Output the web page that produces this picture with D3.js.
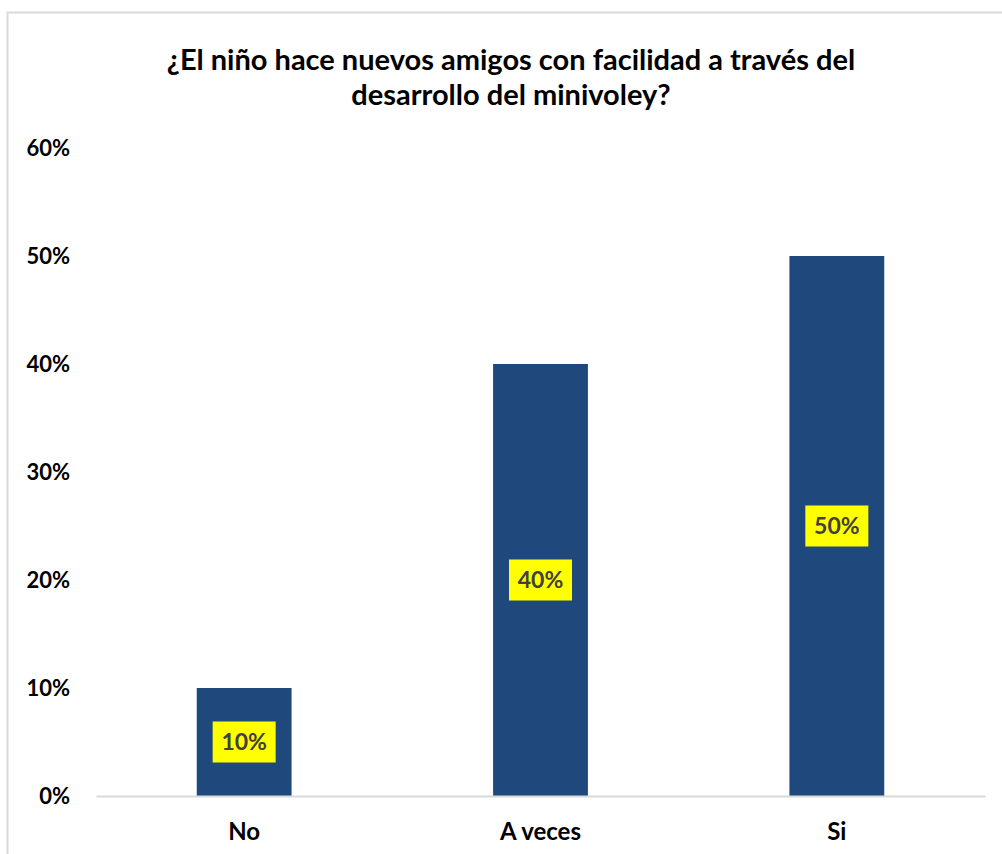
<!DOCTYPE html>
<html>
<head>
<meta charset="utf-8">
<script src="https://cdn.jsdelivr.net/npm/d3@7"></script>
<style>
    html, body { margin: 0; padding: 0; background: #fff; }
    svg { display: block; }
</style>
</head>
<body>
<svg></svg>
<script>

/*
*   Data
*/

const categories = ['No', 'A veces', 'Si']
const values = [0.10, 0.40, 0.50]
const yTicks = [0, 0.1, 0.2, 0.3, 0.4, 0.5, 0.6]
const titleLines = ['¿El niño hace nuevos amigos con facilidad a través del', 'desarrollo del minivoley?']


/*
*   Constants
*/

const WIDTH = 1002
const HEIGHT = 854
const FONT = 'Lato, "Open Sans", sans-serif'
const BAR_COLOR = '#1f497d'
const LABEL_BG = '#ffff00'
const LABEL_TEXT = '#404040'
const AXIS_COLOR = '#d9d9d9'

const plot = { left: 96, right: 985, top: 148, bottom: 796 }


/*
*   Scales
*/

const x = d3.scaleBand()
    .domain(categories)
    .range([plot.left, plot.right])
    .paddingInner(0.68)
    .paddingOuter(0.34)

const y = d3.scaleLinear()
    .domain([0, 0.6])
    .range([plot.bottom, plot.top])


/*
*   Render
*/

const svg = d3.select('svg')
    .attr('width', WIDTH)
    .attr('height', HEIGHT)

// chart frame
svg.append('path')
    .attr('d', `M7.5,${HEIGHT} V12.5 H${WIDTH}`)
    .attr('fill', 'none')
    .attr('stroke', AXIS_COLOR)
    .attr('stroke-width', 2)

// title
svg.append('text')
    .attr('x', 511)
    .attr('y', 70)
    .attr('text-anchor', 'middle')
    .style('font-family', FONT)
    .style('font-weight', 'bold')
    .style('font-size', '29px')
    .attr('fill', '#000')
    .selectAll('tspan')
    .data(titleLines)
    .join('tspan')
    .attr('x', 511)
    .attr('dy', (d, i) => i === 0 ? 0 : 35)
    .text(d => d)

// y axis labels
const yAxis = svg.append('g')
    .attr('transform', `translate(70,0)`)
    .call(d3.axisLeft(y).tickValues(yTicks).tickFormat(d3.format('.0%')).tickSize(0).tickPadding(0))

yAxis.select('.domain').remove()
yAxis.selectAll('text')
    .style('font-family', FONT)
    .style('font-weight', 'bold')
    .style('font-size', '22px')
    .attr('fill', '#000')
    .attr('dy', '0.35em')

// bars
svg.append('g')
    .selectAll('rect')
    .data(values)
    .join('rect')
    .attr('x', (d, i) => x(categories[i]))
    .attr('y', d => y(d))
    .attr('width', x.bandwidth())
    .attr('height', d => y(0) - y(d))
    .attr('fill', BAR_COLOR)

// baseline / x axis
const xAxis = svg.append('g')
    .attr('transform', `translate(0,${plot.bottom})`)
    .call(d3.axisBottom(x).tickSize(0).tickPadding(27))

xAxis.select('.domain')
    .attr('stroke', AXIS_COLOR)
    .attr('stroke-width', 2)
xAxis.selectAll('text')
    .style('font-family', FONT)
    .style('font-weight', 'bold')
    .style('font-size', '24px')
    .attr('fill', '#000')

// data labels
const labels = svg.append('g')
    .selectAll('g')
    .data(values)
    .join('g')
    .attr('transform', (d, i) => `translate(${x(categories[i]) + x.bandwidth() / 2},${(y(d) + y(0)) / 2})`)

labels.append('rect')
    .attr('x', -31.5)
    .attr('y', -20.5)
    .attr('width', 63)
    .attr('height', 41)
    .attr('fill', LABEL_BG)

labels.append('text')
    .attr('text-anchor', 'middle')
    .attr('dy', '0.36em')
    .style('font-family', FONT)
    .style('font-weight', 'bold')
    .style('font-size', '23px')
    .attr('fill', LABEL_TEXT)
    .text(d => d3.format('.0%')(d))

</script>
</body>
</html>
